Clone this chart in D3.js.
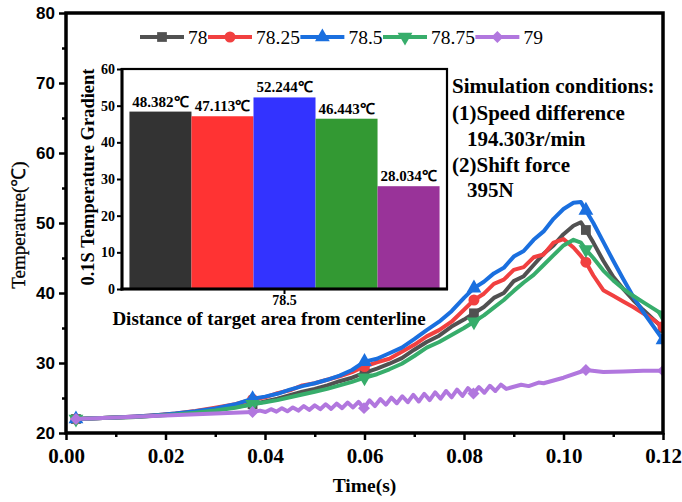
<!DOCTYPE html>
<html><head><meta charset="utf-8">
<script src="https://cdn.jsdelivr.net/npm/d3@7"></script>
<style>body{margin:0;background:#fff} svg{display:block}</style>
</head><body><svg id="c" width="682" height="502"></svg>
<script>
// ---------------- DATA ----------------
const seriesNames = ["78","78.25","78.5","78.75","79"];
const seriesColors = ["#515151","#F14040","#1A6FDF","#37AD6B","#B177DE"];
const seriesSymbols = ["square","circle","triangle","triangleDown","diamond"];

const time = [0.002,0.006,0.010,0.014,0.018,0.022,0.026,0.030,0.034,0.0375,
  0.040,0.0425,0.045,0.0475,0.050,0.0525,0.055,0.0575,0.060,0.0625,0.065,0.0675,0.070,0.0725,0.075,0.0775,0.080,
  0.082,0.084,0.086,0.088,0.090,0.092,0.094,0.096,0.098,0.100,0.102,
  0.1035,0.1045,0.106,0.108,0.110,0.112,0.114,0.116,0.118,0.120];

const temp78 = [22.0,22.1,22.2,22.3,22.5,22.7,22.95,23.3,23.7,24.1,
  24.5,24.9,25.4,25.9,26.3,26.8,27.4,27.9,28.6,29.2,29.9,30.7,31.9,33.0,33.9,35.2,36.2,
  37.1,38.0,39.3,40.0,41.7,42.4,44.0,45.6,46.8,48.4,49.6,
  50.1,49.0,47.2,44.6,42.3,40.6,39.0,37.6,36.3,35.0];

const temp78_25 = [22.0,22.1,22.2,22.35,22.55,22.8,23.15,23.6,24.1,24.8,
  25.1,25.7,26.1,26.8,27.1,27.6,28.1,28.7,29.5,30.1,30.6,31.6,32.6,33.8,34.7,35.9,37.6,
  39.0,39.9,41.3,41.9,43.3,43.7,45.1,45.5,47.2,47.7,46.5,
  45.3,44.4,42.5,40.4,39.6,38.8,38.0,37.1,36.2,35.2];

const temp78_5 = [22.0,22.1,22.2,22.35,22.55,22.8,23.1,23.5,24.1,24.9,
  25.2,25.6,26.2,26.7,27.1,27.6,28.2,29.0,30.2,30.6,31.4,32.2,33.4,34.7,35.9,37.4,39.3,
  40.7,41.6,42.8,43.6,45.2,46.0,47.6,48.8,50.6,52.0,52.9,
  53.0,51.8,50.0,47.3,44.6,42.0,39.5,37.3,35.3,33.3];

const temp78_75 = [22.0,22.1,22.2,22.3,22.45,22.65,22.9,23.2,23.6,24.1,
  24.4,24.7,25.1,25.5,25.9,26.3,26.8,27.3,27.9,28.4,29.1,29.9,31.0,32.2,33.0,34.0,35.0,
  35.9,36.8,37.9,39.0,40.3,41.5,42.6,44.0,45.4,46.8,47.6,
  47.2,46.2,45.0,43.2,41.8,40.6,39.6,38.7,37.8,36.9];

const time79 = [0.002,0.010,0.020,0.030,0.0375,
  0.0390,0.0401,0.0412,0.0423,0.0434,0.0445,0.0456,0.0467,0.0478,0.0489,
  0.0500,0.0511,0.0522,0.0533,0.0544,0.0555,0.0566,0.0577,0.0588,0.0599,
  0.0610,0.0621,0.0632,0.0643,0.0654,0.0665,0.0676,0.0687,0.0698,0.0709,
  0.0720,0.0731,0.0742,0.0753,0.0764,0.0775,0.0786,0.0797,0.0808,0.0819,
  0.0830,0.0841,0.0852,0.0863,0.0874,0.0885,
  0.0900,0.0915,0.0930,0.0950,0.0960,0.1000,0.1045,0.1080,0.1120,0.1160,0.1200];

const temp79 = [22.0,22.2,22.5,22.8,23.0,
  23.2,23.0,23.4,23.05,23.55,23.1,23.65,23.2,23.85,23.3,
  23.95,23.4,24.1,23.45,24.2,23.55,24.35,23.65,24.45,23.55,
  24.65,23.85,24.85,24.05,25.05,24.25,25.25,24.4,25.45,24.5,
  25.6,24.7,25.8,24.9,26.0,25.1,26.2,25.3,26.4,25.65,
  26.55,25.75,26.75,26.0,26.9,26.3,
  26.6,26.9,26.7,27.2,27.1,27.9,29.0,28.7,28.8,28.9,28.9];

const markerTimes = [0.002,0.0375,0.060,0.082,0.1045,0.120];

const xTicks = [0,0.02,0.04,0.06,0.08,0.10,0.12];
const xMinorTicks = [0.01,0.03,0.05,0.07,0.09,0.11];
const yTicks = [20,30,40,50,60,70,80];
const yMinorTicks = [25,35,45,55,65,75];

// inset bar chart
const insetCategory = ["78.5"];
const barValues = [48.382,47.113,52.244,46.443,28.034];
const barLabels = ["48.382℃","47.113℃","52.244℃","46.443℃","28.034℃"];
const barColors = ["#333333","#FF3333","#3333FF","#339933","#993399"];
const insetYTicks = [0,10,20,30,40,50,60];

const conditionLines = ["Simulation conditions:","(1)Speed difference","194.303r/min","(2)Shift force","395N"];

// ---------------- DRAW ----------------
const SERIF = "'Liberation Serif','Times New Roman',Times,serif";
const SANS = "'Liberation Sans',Arial,Helvetica,sans-serif";
const svg = d3.select("#c");
const M = {l:66, r:663, t:13, b:433};
const x = d3.scaleLinear().domain([0,0.12]).range([M.l,M.r]);
const y = d3.scaleLinear().domain([20,80]).range([M.b,M.t]);

const series = [
  {name:seriesNames[0], t:time,   v:temp78},
  {name:seriesNames[1], t:time,   v:temp78_25},
  {name:seriesNames[2], t:time,   v:temp78_5},
  {name:seriesNames[3], t:time,   v:temp78_75},
  {name:seriesNames[4], t:time79, v:temp79}
];

function symbolPath(kind, size){
  if(kind==="square") return d3.symbol(d3.symbolSquare, size)();
  if(kind==="circle") return d3.symbol(d3.symbolCircle, size)();
  if(kind==="triangle") return d3.symbol(d3.symbolTriangle, size)();
  if(kind==="triangleDown") return d3.symbol(d3.symbolTriangle, size)();
  return d3.symbol(d3.symbolSquare, size*0.75)();
}
function symbolRot(kind){
  if(kind==="triangleDown") return 180;
  if(kind==="diamond") return 45;
  return 0;
}

// x axis
const gx = svg.append("g").attr("transform",`translate(0,${M.b})`)
  .call(d3.axisBottom(x).tickValues(xTicks).tickFormat(d3.format(".2f")).tickSize(7).tickSizeOuter(0));
gx.select(".domain").remove();
gx.selectAll("line").attr("stroke","#000").attr("stroke-width",2.5);
gx.selectAll("text").attr("y",30).attr("dy",null).attr("fill","#000")
  .style("font-family",SERIF).style("font-weight","bold").style("font-size","21px");
const gxm = svg.append("g").attr("transform",`translate(0,${M.b})`)
  .call(d3.axisBottom(x).tickValues(xMinorTicks).tickFormat("").tickSize(4).tickSizeOuter(0));
gxm.select(".domain").remove();
gxm.selectAll("line").attr("stroke","#000").attr("stroke-width",2.5);

// y axis
const gy = svg.append("g").attr("transform",`translate(${M.l},0)`)
  .call(d3.axisLeft(y).tickValues(yTicks).tickFormat(d3.format("d")).tickSize(7).tickSizeOuter(0));
gy.select(".domain").remove();
gy.selectAll("line").attr("stroke","#000").attr("stroke-width",2.5);
gy.selectAll("text").attr("x",-11).attr("fill","#000")
  .style("font-family",SANS).style("font-weight","bold").style("font-size","17px");
const gym = svg.append("g").attr("transform",`translate(${M.l},0)`)
  .call(d3.axisLeft(y).tickValues(yMinorTicks).tickFormat("").tickSize(4).tickSizeOuter(0));
gym.select(".domain").remove();
gym.selectAll("line").attr("stroke","#000").attr("stroke-width",2.5);

// axis titles
svg.append("text").attr("x",(M.l+M.r)/2).attr("y",492).attr("text-anchor","middle")
  .style("font-family",SERIF).style("font-weight","bold").style("font-size","19.5px").text("Time(s)");
svg.append("text").attr("transform","translate(25,225) rotate(-90)").attr("text-anchor","middle")
  .style("font-family",SERIF).style("font-size","19px").style("stroke","#000").style("stroke-width","0.3px")
  .text("Temperature(℃)");

// ---- inset ----
const IX0=122, IX1=447, IY0=69, IY1=289;
const xo = d3.scaleBand().domain(insetCategory).range([IX0,IX1]).paddingInner(0).paddingOuter(0.024);
const xi = d3.scaleBand().domain(seriesNames).range([0,xo.bandwidth()]).padding(0);
const yi = d3.scaleLinear().domain([0,60]).range([IY1,IY0]);
const inset = svg.append("g");
inset.append("rect").attr("x",IX0).attr("y",IY0).attr("width",IX1-IX0).attr("height",IY1-IY0).attr("fill","#fff");
const bars = inset.append("g").selectAll("g").data(barValues).join("g");
bars.append("rect")
  .attr("x",(d,i)=>xo(insetCategory[0])+xi(seriesNames[i]))
  .attr("y",d=>yi(d)).attr("width",xi.bandwidth()).attr("height",d=>yi(0)-yi(d))
  .attr("fill",(d,i)=>barColors[i]);
bars.append("text")
  .attr("x",(d,i)=>xo(insetCategory[0])+xi(seriesNames[i])+xi.bandwidth()/2)
  .attr("y",d=>yi(d)-5).attr("text-anchor","middle")
  .style("font-family",SERIF).style("font-weight","bold").style("font-size","15px")
  .text((d,i)=>barLabels[i]);
const giy = inset.append("g").attr("transform",`translate(${IX0},0)`)
  .call(d3.axisLeft(yi).tickValues(insetYTicks).tickSize(5).tickSizeOuter(0));
giy.select(".domain").remove();
giy.selectAll("line").attr("stroke","#000").attr("stroke-width",2);
giy.selectAll("text").attr("x",-7).attr("fill","#000")
  .style("font-family",SERIF).style("font-weight","bold").style("font-size","14px");
const gix = inset.append("g").attr("transform",`translate(0,${IY1})`)
  .call(d3.axisBottom(xo).tickSize(5).tickSizeOuter(0));
gix.select(".domain").remove();
gix.selectAll("line").attr("stroke","#000").attr("stroke-width",2);
gix.selectAll("text").attr("y",16).attr("dy",null).attr("fill","#000")
  .style("font-family",SERIF).style("font-weight","bold").style("font-size","14px");
// inset frame
inset.append("rect").attr("x",IX0).attr("y",IY0).attr("width",IX1-IX0).attr("height",IY1-IY0)
  .attr("fill","none").attr("stroke","#000").attr("stroke-width",2.2);
inset.append("line").attr("x1",IX0).attr("x2",IX0).attr("y1",IY0-1).attr("y2",IY1+1.5).attr("stroke","#000").attr("stroke-width",3);
inset.append("line").attr("x1",IX0-1.5).attr("x2",IX1+1).attr("y1",IY1).attr("y2",IY1).attr("stroke","#000").attr("stroke-width",3);
inset.append("text").attr("x",269).attr("y",325).attr("text-anchor","middle")
  .style("font-family",SERIF).style("font-weight","bold").style("font-size","19px")
  .text("Distance of target area from centerline");
inset.append("text").attr("transform",`translate(94,${(IY0+IY1)/2-2}) rotate(-90)`).attr("text-anchor","middle")
  .style("font-family",SERIF).style("font-weight","bold").style("font-size","18.5px")
  .text("0.1S Temperature Gradient");

// conditions text
const cond = svg.append("g").style("font-family",SERIF).style("font-weight","bold").style("font-size","21px");
const condX = [452,452,467,452,467];
const condY = [93,120,146,172,197];
conditionLines.forEach((s,i)=>cond.append("text").attr("x",condX[i]).attr("y",condY[i]).text(s));

// ---- curves ----
svg.append("clipPath").attr("id","plotclip").append("rect")
  .attr("x",M.l).attr("y",M.t).attr("width",M.r-M.l).attr("height",M.b-M.t);
const plot = svg.append("g").attr("clip-path","url(#plotclip)");
const line = d3.line().x(d=>x(d[0])).y(d=>y(d[1]));
series.forEach((s,si)=>{
  const pts = s.t.map((tt,i)=>[tt,s.v[i]]);
  plot.append("path").attr("d",line(pts)).attr("fill","none")
    .attr("stroke",seriesColors[si]).attr("stroke-width",4).attr("stroke-linejoin","round").attr("stroke-linecap","round");
  const mk = markerTimes.map(mt=>{
    let bi=0; s.t.forEach((tt,i)=>{ if(Math.abs(tt-mt)<Math.abs(s.t[bi]-mt)) bi=i; });
    return pts[bi];
  });
  plot.selectAll(null).data(mk).join("path")
    .attr("d",symbolPath(seriesSymbols[si],95))
    .attr("transform",d=>`translate(${x(d[0])},${y(d[1])}) rotate(${symbolRot(seriesSymbols[si])})`)
    .attr("fill",seriesColors[si]);
});

// frame
svg.append("rect").attr("x",M.l).attr("y",M.t).attr("width",M.r-M.l).attr("height",M.b-M.t)
  .attr("fill","none").attr("stroke","#000").attr("stroke-width",3.5);

// ---- legend ----
const leg = svg.append("g");
let cx = 140;
const LY = 37;
seriesNames.forEach((n,i)=>{
  leg.append("line").attr("x1",cx).attr("x2",cx+44).attr("y1",LY).attr("y2",LY)
    .attr("stroke",seriesColors[i]).attr("stroke-width",4);
  leg.append("path").attr("d",symbolPath(seriesSymbols[i],95))
    .attr("transform",`translate(${cx+22},${LY}) rotate(${symbolRot(seriesSymbols[i])})`)
    .attr("fill",seriesColors[i]);
  const t = leg.append("text").attr("x",cx+48).attr("y",LY+7)
    .style("font-family",SERIF).style("font-size","19.5px").text(n);
  cx = cx + 48 + t.node().getComputedTextLength() + 0.5;
});
</script></body></html>
